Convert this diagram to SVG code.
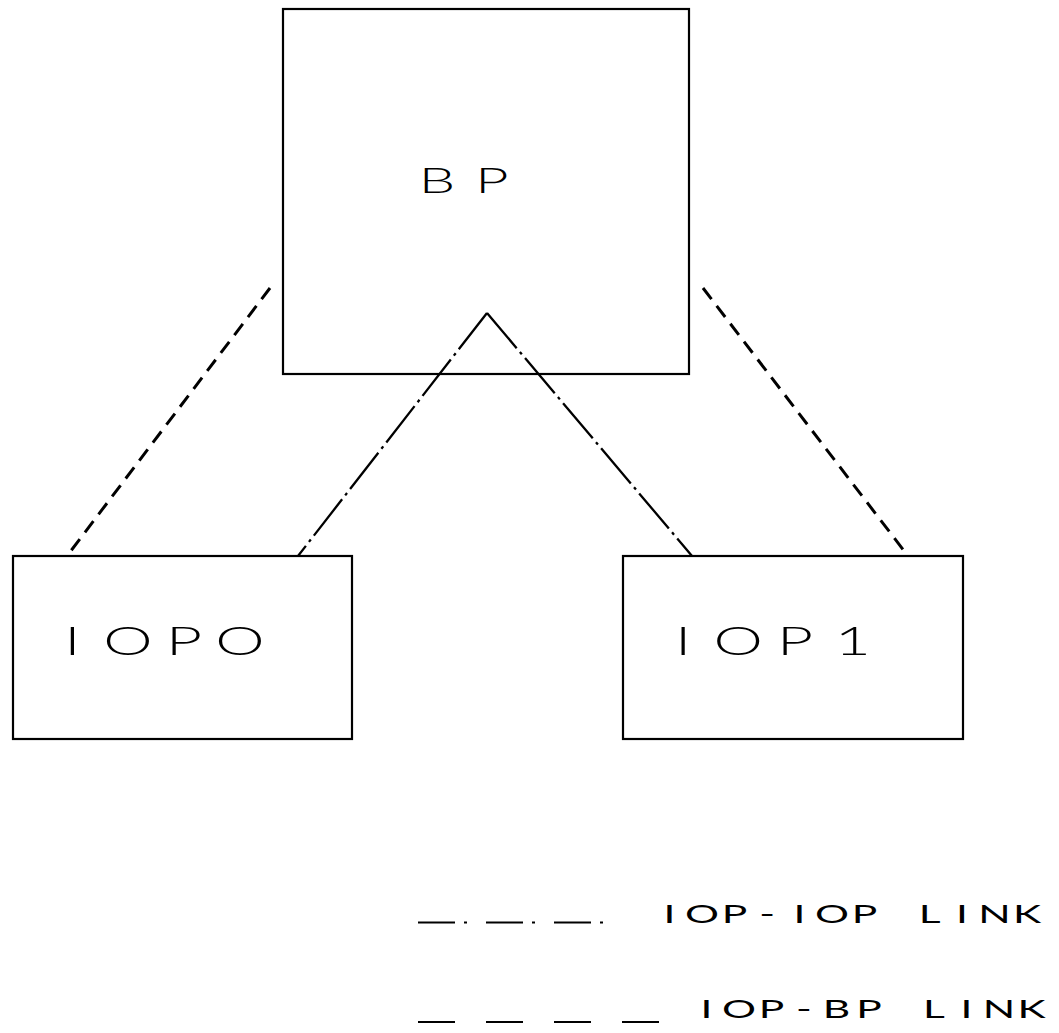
<svg xmlns="http://www.w3.org/2000/svg" width="1059" height="1033" viewBox="0 0 1059 1033">
  <style>
    .box { fill: none; stroke: #000; stroke-width: 2.2; }
    .lbl { font-family: "Lato", "Liberation Sans", sans-serif; font-weight: 300; fill: #000; text-anchor: middle; }
    .big { font-size: 39px; }
    .mid { font-size: 36px; }
    .leg { font-size: 25px; font-weight: 400; }
    .bp-link { fill: none; stroke: #000; stroke-width: 3; stroke-dasharray: 14 8.5; }
    .iop-link { fill: none; stroke: #000; stroke-width: 2.3; stroke-dasharray: 46 5 3 5; }
  </style>
  <rect width="1059" height="1033" fill="#fff"/>

  <!-- links -->
  <g id="connectors">
    <path class="iop-link" d="M487 313 L298 556"/>
    <path class="iop-link" d="M487 313 L692 556"/>
    <path class="bp-link" d="M270 288 L67 556"/>
    <path class="bp-link" d="M703 288 L908 556"/>
  </g>

  <!-- processors -->
  <g id="node-bp">
    <rect class="box" x="283" y="9" width="406" height="365"/>
    <text class="lbl mid" transform="scale(1.6 1)" x="273.1 307.5" y="193">BP</text>
  </g>
  <g id="node-iop0">
    <rect class="box" x="13" y="556" width="339" height="183"/>
    <text class="lbl big" transform="scale(1.6 1)" x="45.3 80 115 150" y="655">IOPO</text>
  </g>
  <g id="node-iop1">
    <rect class="box" x="623" y="556" width="340" height="183"/>
    <text class="lbl big" transform="scale(1.6 1)" x="426.9 461.3 496.9 533.1" y="655">IOP1</text>
  </g>

  <!-- legend -->
  <g id="legend">
    <path class="box" d="M418 922.5 L603 922.5" stroke-dasharray="37 9 3 19" stroke-width="2.8"/>
    <text class="lbl leg" transform="scale(1.7 1)" x="393.8 412.9 432.1 451.2 470.3 489.4 508.5 527.6 546.8 565.9 585 604.1" y="923">IOP-IOP LINK</text>
    <path class="box" d="M418 1022 L660 1022" stroke-dasharray="37 31" stroke-width="2.6"/>
    <text class="lbl leg" transform="scale(1.7 1)" x="415.6 434.7 453.8 472.9 492.1 511.2 530.3 549.4 568.5 587.6 606.8" y="1018">IOP-BP LINK</text>
  </g>
</svg>
